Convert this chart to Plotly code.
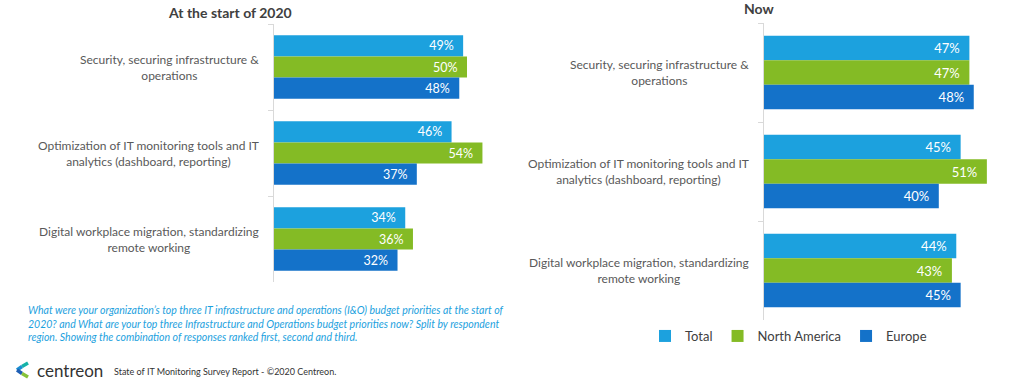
import plotly.graph_objects as go

categories = [
    "Security, securing infrastructure &<br>operations",
    "Optimization of IT monitoring tools and IT<br>analytics (dashboard, reporting)",
    "Digital workplace migration, standardizing<br>remote working",
]
series_names = ["Total", "North America", "Europe"]
start_2020 = {
    "Total": [49, 46, 34],
    "North America": [50, 54, 36],
    "Europe": [48, 37, 32],
}
now = {
    "Total": [47, 45, 44],
    "North America": [47, 51, 43],
    "Europe": [48, 40, 45],
}
colors = {"Total": "#1ca1de", "North America": "#84bb25", "Europe": "#1472c9"}
panel_titles = ["At the start of 2020", "Now"]
question = ("What were your organization\u2019s top three IT infrastructure and operations (I&O) budget priorities at the start of<br>"
            "2020? and What are your top three Infrastructure and Operations budget priorities now? Split by respondent<br>"
            "region. Showing the combination of responses ranked first, second and third.")
footer = "State of IT Monitoring Survey Report - \u00a92020 Centreon."

W, H = 1024, 388
FONT = "Lato"

def px(x):
    return x / W

def py(y):
    return 1 - y / H

fig = go.Figure()
for name in series_names:
    fig.add_trace(go.Bar(
        y=categories, x=start_2020[name], orientation="h", name=name,
        marker=dict(color=colors[name], line=dict(width=0)),
        texttemplate="%{x}%\u00a0\u00a0", textposition="inside", insidetextanchor="end",
        textfont=dict(color="white", size=12.5, family=FONT),
        xaxis="x", yaxis="y", showlegend=True, hoverinfo="skip",
    ))
for name in series_names:
    fig.add_trace(go.Bar(
        y=categories, x=now[name], orientation="h", name=name,
        marker=dict(color=colors[name], line=dict(width=0)),
        texttemplate="%{x}%\u00a0\u00a0", textposition="inside", insidetextanchor="end",
        textfont=dict(color="white", size=13, family=FONT),
        xaxis="x2", yaxis="y2", showlegend=False, hoverinfo="skip",
    ))

axis_common = dict(showgrid=False, zeroline=False)
fig.update_layout(
    width=W, height=H,
    margin=dict(l=0, r=0, t=0, b=0),
    paper_bgcolor="white", plot_bgcolor="white",
    barmode="group",
    bargap=0.26,
    font=dict(family=FONT, color="#404040"),
    xaxis=dict(domain=[px(274), px(274 + 3.86 * 56)], range=[0, 56], visible=False, **axis_common),
    yaxis=dict(domain=[py(282), py(24)], autorange="reversed", anchor="x",
               showticklabels=False, showline=True, linecolor="#d9d9d9", linewidth=1,
               ticks="outside", tickson="boundaries", ticklen=5, tickcolor="#d9d9d9", **axis_common),
    xaxis2=dict(domain=[px(764), px(764 + 4.37 * 55)], range=[0, 55], visible=False, anchor="y2", **axis_common),
    yaxis2=dict(domain=[py(320), py(23)], autorange="reversed", anchor="x2",
                showticklabels=False, showline=True, linecolor="#d9d9d9", linewidth=1,
                ticks="outside", tickson="boundaries", ticklen=5, tickcolor="#d9d9d9", **axis_common),
    legend=dict(orientation="h", x=px(645), y=py(336), xanchor="left", yanchor="middle",
                font=dict(size=13, color="#404040", family=FONT), bgcolor="rgba(0,0,0,0)",
                traceorder="normal", itemclick=False),
)

annotations = []
for cat in categories:
    annotations.append(dict(text=cat, x=px(261), xref="paper", xanchor="right", y=cat, yref="y",
                            yanchor="middle", align="center", showarrow=False,
                            font=dict(size=12, color="#595959", family=FONT)))
    annotations.append(dict(text=cat, x=px(751), xref="paper", xanchor="right", y=cat, yref="y2",
                            yanchor="middle", align="center", showarrow=False,
                            font=dict(size=12, color="#595959", family=FONT)))
annotations.append(dict(text="<b>" + panel_titles[0] + "</b>", x=px(230), y=py(12), xref="paper", yref="paper",
                        xanchor="center", yanchor="middle", showarrow=False,
                        font=dict(size=14, color="#404040", family=FONT)))
annotations.append(dict(text="<b>" + panel_titles[1] + "</b>", x=px(759), y=py(8), xref="paper", yref="paper",
                        xanchor="center", yanchor="middle", showarrow=False,
                        font=dict(size=14, color="#404040", family=FONT)))
annotations.append(dict(text="<i>" + question + "</i>", x=px(26), y=py(323), xref="paper", yref="paper",
                        xanchor="left", yanchor="middle", align="left", showarrow=False,
                        font=dict(size=10.5, color="#1ca1de", family=FONT)))
annotations.append(dict(text="centreon", x=px(35), y=py(370), xref="paper", yref="paper",
                        xanchor="left", yanchor="middle", showarrow=False,
                        font=dict(size=17, color="#333333", family=FONT)))
annotations.append(dict(text=footer, x=px(112), y=py(371), xref="paper", yref="paper",
                        xanchor="left", yanchor="middle", showarrow=False,
                        font=dict(size=9, color="#333333", family=FONT)))
fig.update_layout(annotations=annotations)

# logo mark (chevron)
def seg(x0, y0, x1, y1, color):
    return dict(type="line", xref="paper", yref="paper", x0=px(x0), y0=py(y0), x1=px(x1), y1=py(y1),
                line=dict(color=color, width=3.5))
fig.update_layout(shapes=[
    seg(28, 363, 22, 366.5, "#15b3a8"),
    seg(22, 366.5, 17, 370, "#1c8fd1"),
    seg(17, 370, 22, 373.5, "#1f5fb5"),
    seg(22, 373.5, 28, 377, "#86c23a"),
])

fig.write_html("out.html", config={"displayModeBar": False, "staticPlot": True},
               post_script="document.body.style.margin='0px';document.body.style.overflow='hidden';")
